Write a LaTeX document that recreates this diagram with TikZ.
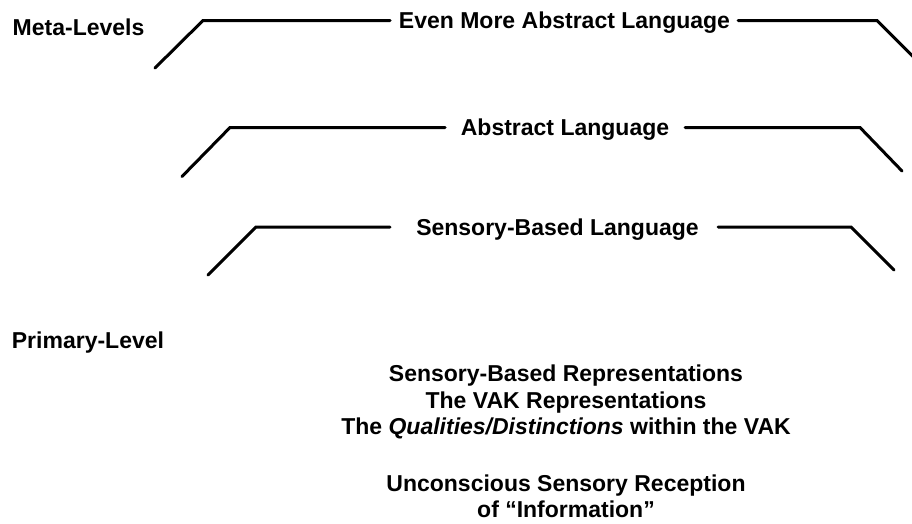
\documentclass[tikz,border=0pt]{standalone}
\usepackage{fontspec}
\setmainfont{Liberation Sans}
\begin{document}
\begin{tikzpicture}[x=1pt,y=-1pt,
  lvl/.style={line width=3pt, line cap=round, line join=miter},
  lbl/.style={font=\fontsize{23}{26}\selectfont\bfseries, anchor=base, inner sep=0pt},
  side/.style={lbl, anchor=base west}]
\useasboundingbox (0,0) rectangle (912,523);
\clip (0,0) rectangle (912,523);
% side labels
\node[side] (meta) at (12.5,35) {Meta-Levels};
\node[side] (prim) at (11.7,348) {Primary-Level};
% level 1
\node[lbl] (t1) at (564.5,28.7) {Even More Abstract Language};
\coordinate (a1) at (155,68);
\coordinate (b1) at (203,20.5);
\coordinate (c1) at (390,20.5);
\coordinate (d1) at (738,20.5);
\coordinate (e1) at (877,20.5);
\coordinate (f1) at (925,68.5);
\draw[lvl] (a1) -- (b1) -- (c1);
\draw[lvl] (d1) -- (e1) -- (f1);
% level 2
\node[lbl] (t2) at (565,135.5) {Abstract Language};
\coordinate (a2) at (182,176.5);
\coordinate (b2) at (230,127.5);
\coordinate (c2) at (445,127.5);
\coordinate (d2) at (685,127.5);
\coordinate (e2) at (860,127.5);
\coordinate (f2) at (902,171);
\draw[lvl] (a2) -- (b2) -- (c2);
\draw[lvl] (d2) -- (e2) -- (f2);
% level 3
\node[lbl] (t3) at (557.5,235) {Sensory-Based Language};
\coordinate (a3) at (208,275);
\coordinate (b3) at (256,227);
\coordinate (c3) at (390,227);
\coordinate (d3) at (718,227);
\coordinate (e3) at (851,227);
\coordinate (f3) at (894,270);
\draw[lvl] (a3) -- (b3) -- (c3);
\draw[lvl] (d3) -- (e3) -- (f3);
% primary-level texts
\node[lbl] (r1) at (566,381.5) {Sensory-Based Representations};
\node[lbl] (r2) at (566,408) {The VAK Representations};
\node[lbl] (r3) at (566,434.5) {The \textit{Qualities/Distinctions} within the VAK};
\node[lbl] (u1) at (566,491.5) {Unconscious Sensory Reception};
\node[lbl] (u2) at (566,517.5) {of “Information”};
\end{tikzpicture}
\end{document}
